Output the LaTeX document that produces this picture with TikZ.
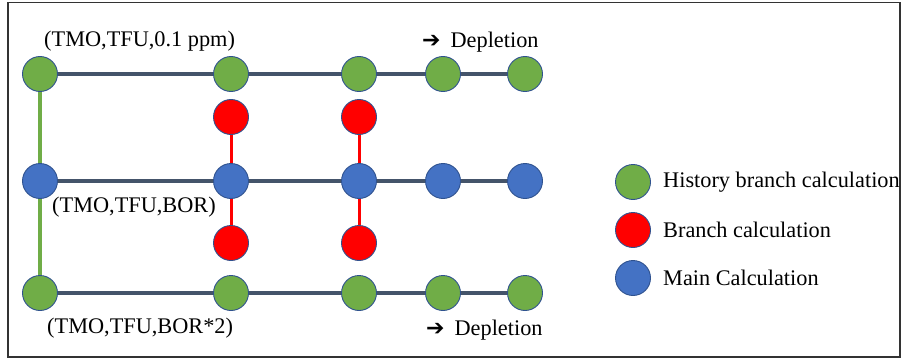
\documentclass[tikz,border=0pt]{standalone}
\usepackage{fontspec}
\setmainfont{Liberation Serif}
\newfontfamily\symfont{DejaVu Sans}
\definecolor{hgreen}{HTML}{70AD47}
\definecolor{bred}{HTML}{FF0000}
\definecolor{mblue}{HTML}{4472C4}
\definecolor{rim}{HTML}{2F528F}
\definecolor{trunk}{HTML}{44546A}
\tikzset{
  calc/.style={circle,minimum size=35pt,inner sep=0pt,draw=rim,line width=0.9pt},
  hist/.style={calc,fill=hgreen},
  branch/.style={calc,fill=bred},
  mainc/.style={calc,fill=mblue},
  trunkline/.style={draw=trunk,line width=3.2pt},
  redline/.style={draw=bred,line width=3pt},
  greenline/.style={draw=hgreen,line width=3.2pt},
  lbl/.style={font=\fontsize{22.3}{26}\selectfont,inner sep=0pt,anchor=west},
}
\begin{document}
\begin{tikzpicture}[x=1pt,y=-1pt]
\useasboundingbox (0,0) rectangle (902,361);
\draw[line width=1.4pt,draw=black!80] (8,2.5) rectangle (900,357);
% nodes
\foreach \n/\x in {1/40,2/231,3/359,4/443,5/525}{
  \node[hist] (t\n) at (\x,74) {};
  \node[mainc] (m\n) at (\x,181) {};
  \node[hist] (b\n) at (\x,293) {};
}
\node[branch] (ru2) at (231,117) {};
\node[branch] (rd2) at (231,243) {};
\node[branch] (ru3) at (359,117) {};
\node[branch] (rd3) at (359,243) {};
% connectors
\path[trunkline] (t1) -- (t2) (t2) -- (t3) (t3) -- (t4) (t4) -- (t5);
\path[trunkline] (m1) -- (m2) (m2) -- (m3) (m3) -- (m4) (m4) -- (m5);
\path[trunkline] (b1) -- (b2) (b2) -- (b3) (b3) -- (b4) (b4) -- (b5);
\path[greenline] (t1) -- (m1) (m1) -- (b1);
\path[redline] (ru2) -- (m2) (m2) -- (rd2) (ru3) -- (m3) (m3) -- (rd3);
% labels
\node[lbl] (l1) at (44,41) {(TMO,TFU,0.1 ppm)};
\node[lbl] (l2) at (52,207) {(TMO,TFU,BOR)};
\node[lbl] (l3) at (47,328) {(TMO,TFU,BOR*2)};
\node[lbl] (d1) at (422,42) {{\symfont\fontsize{22}{24}\selectfont ➔}\hspace{10pt}Depletion};
\node[lbl] (d2) at (426,330) {{\symfont\fontsize{22}{24}\selectfont ➔}\hspace{10pt}Depletion};
% legend
\node[hist] (k1) at (633,182) {};
\node[branch] (k2) at (633,230) {};
\node[mainc] (k3) at (633,278) {};
\node[lbl] (kt1) at (663,182) {History branch calculation};
\node[lbl] (kt2) at (663,230) {Branch calculation};
\node[lbl] (kt3) at (663,278) {Main Calculation};
\end{tikzpicture}
\end{document}
